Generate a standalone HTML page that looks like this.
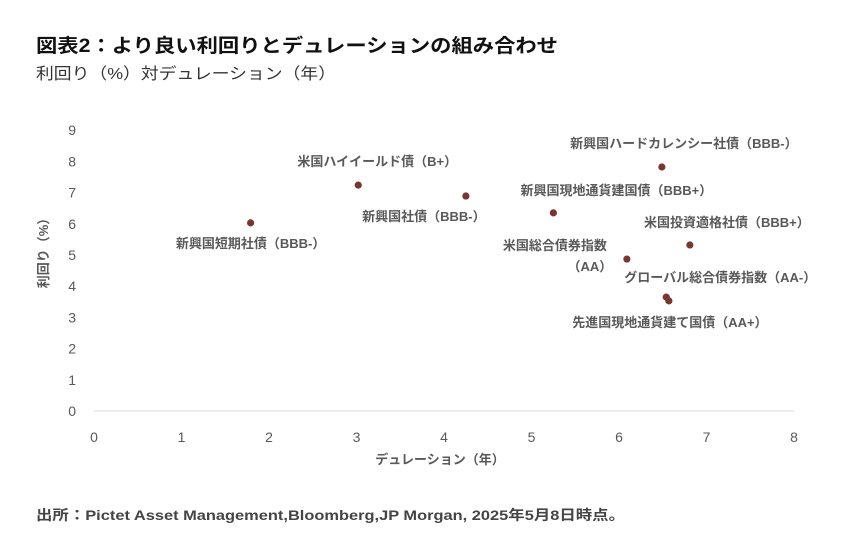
<!DOCTYPE html>
<html><head><meta charset="utf-8"><style>
body{margin:0;background:#fff;}
svg{display:block;font-family:"Liberation Sans","Noto Sans CJK JP",sans-serif;}
</style></head><body>
<svg id="chart" width="866" height="557" viewBox="0 0 866 557">
<text x="36" y="52" font-size="19" font-weight="bold" fill="#111" textLength="522" lengthAdjust="spacingAndGlyphs">図表2：より良い利回りとデュレーションの組み合わせ</text>
<text x="36" y="79" font-size="16" fill="#333" textLength="300" lengthAdjust="spacingAndGlyphs">利回り（%）対デュレーション（年）</text>
<g id="axes"></g>
<g id="marks"></g>
<text x="440" y="464" font-size="13" font-weight="bold" fill="#595959" text-anchor="middle">デュレーション（年）</text>
<text transform="translate(48,250) rotate(-90)" font-size="13" font-weight="bold" fill="#595959" text-anchor="middle">利回り（%）</text>
<text x="36" y="520" font-size="14" font-weight="bold" fill="#444" textLength="589" lengthAdjust="spacingAndGlyphs">出所：Pictet Asset Management,Bloomberg,JP Morgan, 2025年5月8日時点。</text>
</svg>
<script>
const names=["新興国短期社債（BBB-）","米国ハイイールド債（B+）","新興国社債（BBB-）","新興国現地通貨建国債（BBB+）","新興国ハードカレンシー社債（BBB-）","米国投資適格社債（BBB+）","米国総合債券指数|（AA）","グローバル総合債券指数（AA-）","先進国現地通貨建て国債（AA+）"];
const durations=[1.79,3.02,4.25,5.25,6.49,6.81,6.09,6.54,6.57];
const yields=[6.03,7.24,6.89,6.35,7.82,5.32,4.87,3.65,3.53];
const xTicks=[0,1,2,3,4,5,6,7,8];
const yTicks=[0,1,2,3,4,5,6,7,8,9];
const labelDx=[0,19,-42,63,22,37,-72,54,1];
const labelDy=[20,-24,20,-23,-24,-23,-14,-20,21];
const NS="http://www.w3.org/2000/svg";
const X=v=>94+v*87.5, Y=v=>411-v*31.2;
const axes=document.getElementById('axes'), marks=document.getElementById('marks');
function mk(tag,attrs,parent){const e=document.createElementNS(NS,tag);for(const k in attrs)e.setAttribute(k,attrs[k]);parent.appendChild(e);return e;}
const base=mk('line',{x1:X(0),x2:X(8),y1:Y(0),y2:Y(0),stroke:'#d9d9d9','stroke-width':1},axes);


xTicks.forEach(t=>{const e=mk('text',{x:X(t),y:442,'font-size':14,fill:'#595959','text-anchor':'middle'},axes);e.textContent=t;

});
yTicks.forEach(t=>{const e=mk('text',{x:76,y:Y(t)+5,'font-size':14,fill:'#595959','text-anchor':'end'},axes);e.textContent=t;

});
names.forEach((n,i)=>{const cx=X(durations[i]),cy=Y(yields[i]);
const c=mk('circle',{cx:cx,cy:cy,r:3.6,fill:'#7b3530'},marks);


const parts=n.split('|');
parts.forEach((p,j)=>{const t=mk('text',{x:cx+labelDx[i]+(j?35:0),y:cy+labelDy[i]+5+j*21,'font-size':13,'font-weight':'bold',fill:'#595959','text-anchor':'middle'},marks);t.textContent=p;

});
});
</script>
</body></html>
